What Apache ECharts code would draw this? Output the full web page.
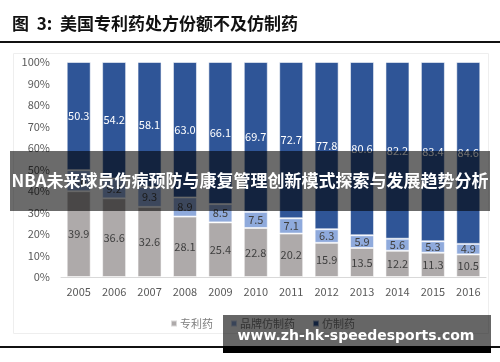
<!DOCTYPE html>
<html><head><meta charset="utf-8">
<script src="https://cdn.jsdelivr.net/npm/echarts@6/dist/echarts.min.js"></script>
<style>html,body{margin:0;padding:0;background:#fff;}#c{width:500px;height:362px;}</style>
</head><body><div id="c"></div>
<script>
const years = ['2005','2006','2007','2008','2009','2010','2011','2012','2013','2014','2015','2016'];
const patent = [39.9,36.6,32.6,28.1,25.4,22.8,20.2,15.9,13.5,12.2,11.3,10.5];
const brandGeneric = [9.8,9.2,9.3,8.9,8.5,7.5,7.1,6.3,5.9,5.6,5.3,4.9];
const generic = [50.3,54.2,58.1,63.0,66.1,69.7,72.7,77.8,80.6,82.2,83.4,84.6];
const yTicks = [0,10,20,30,40,50,60,70,80,90,100];
const seriesNames = ['专利药','品牌仿制药','仿制药'];
const titleText = '图  3:  美国专利药处方份额不及仿制药';
const bannerText = 'NBA未来球员伤病预防与康复管理创新模式探索与发展趋势分析';
const watermark = 'www.zh-hk-speedesports.com';

const chart = echarts.init(document.getElementById('c'), null, {renderer:'canvas'});
const font = '"Noto Sans CJK SC", "Noto Sans", sans-serif';
function mk(name, data, color, labelColor){
  return {name, type:'bar', stack:'s', data, barWidth:24,
    itemStyle:{color, borderColor:'rgba(255,255,255,0.55)', borderWidth:1},
    label:{show:true, position:'inside', color:labelColor, fontSize:11, fontFamily:font,
      formatter:p=>p.value.toFixed(1)}};
}
chart.setOption({
  animation:false,
  textStyle:{fontFamily:font},
  grid:{left:61, right:14, top:62, bottom:85},
  legend:{data:seriesNames, left:165, top:313, itemWidth:6, itemHeight:6, itemGap:17,
    icon:'rect', textStyle:{color:'#7f7f7f', fontSize:11, fontFamily:font, padding:[0,0,0,-2]}},
  xAxis:{type:'category', data:years,
    axisLine:{lineStyle:{color:'#d9d9d9', width:1}}, axisTick:{show:false},
    axisLabel:{color:'#595959', fontSize:11, margin:9}},
  yAxis:{type:'value', min:0, max:100, interval:10,
    axisLine:{show:false}, axisTick:{show:false}, splitLine:{show:false},
    axisLabel:{color:'#595959', fontSize:11, margin:11, formatter:v=>v+'%'}},
  series:[
    mk(seriesNames[0], patent, '#aeaaaa', '#404040'),
    mk(seriesNames[1], brandGeneric, '#8faadc', '#404040'),
    mk(seriesNames[2], generic, '#2f5597', '#ffffff')
  ],
  graphic:[
    {type:'rect', shape:{x:13.5,y:53.5,width:475,height:280}, style:{fill:'none', stroke:'#eeeeee', lineWidth:1}, z:-1},
    {type:'text', left:12, top:15, style:{text:titleText, fill:'#111', font:'bold 17px "Noto Sans CJK SC", serif'}},
    {type:'rect', shape:{x:0,y:41,width:500,height:2}, style:{fill:'#111'}},
    {type:'rect', shape:{x:0,y:346,width:500,height:2}, style:{fill:'#111'}},
    {type:'rect', shape:{x:10,y:151,width:480,height:60}, style:{fill:'rgba(0,0,0,0.58)'}, z:100},
    {type:'text', x:250, y:181, z:101, style:{text:bannerText, fill:'#fff', align:'center', verticalAlign:'middle',
      font:'bold 17px "Noto Sans CJK SC", sans-serif'}},
    {type:'rect', shape:{x:223,y:315,width:268,height:32}, style:{fill:'rgba(0,0,0,0.6)'}, z:100},
    {type:'rect', shape:{x:223,y:346,width:268,height:7}, style:{fill:'#000'}, z:100},
    {type:'text', x:356, y:336, z:101, style:{text:watermark, fill:'#fff', align:'center', verticalAlign:'middle',
      font:'bold 14px "DejaVu Sans", sans-serif'}}
  ]
});
</script></body></html>
